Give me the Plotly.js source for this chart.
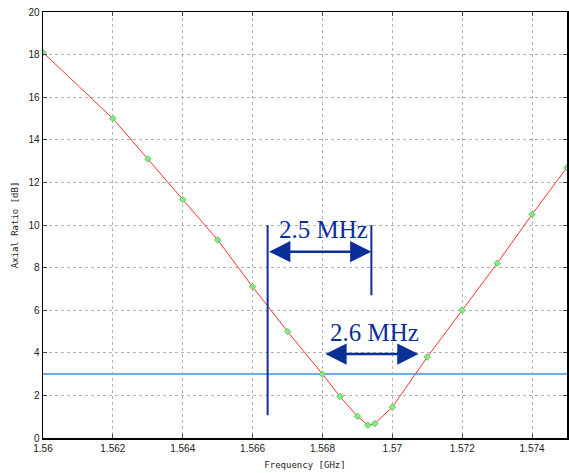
<!DOCTYPE html>
<html>
<head>
<meta charset="utf-8">
<script src="https://cdn.plot.ly/plotly-3.0.1.min.js"></script>
<style>html,body{margin:0;padding:0;background:#fff;}#chart{width:569px;height:473px;}</style>
</head>
<body>
<div id="chart"></div>
<script>
// Frequency [GHz]
var freq = [1.560, 1.562, 1.563, 1.564, 1.565, 1.566, 1.567, 1.568, 1.5685, 1.569, 1.5693, 1.5695, 1.570, 1.571, 1.572, 1.573, 1.574, 1.575];
// Axial ratio [dB]
var axialRatio = [18.1, 15.0, 13.1, 11.2, 9.3, 7.1, 5.0, 3.0, 1.95, 1.02, 0.6, 0.68, 1.45, 3.8, 6.0, 8.2, 10.5, 12.7];
// 3 dB threshold
var thresholdDb = 3;
var xTicks = [1.56, 1.562, 1.564, 1.566, 1.568, 1.57, 1.572, 1.574];
var xTickText = ["1.56", "1.562", "1.564", "1.566", "1.568", "1.57", "1.572", "1.574"];
var yTicks = [0, 2, 4, 6, 8, 10, 12, 14, 16, 18, 20];
// Bandwidth annotations
var bw1Label = "2.5 MHz", bw1Start = 1.56643, bw1End = 1.5694, bw1ArrowY = 8.75, bw1LineA = [1.07, 10.0], bw1LineB = [6.7, 10.0], bw1TextPos = [1.56802, 9.8];
var bw2Label = "2.6 MHz", bw2Start = 1.56804, bw2End = 1.57075, bw2ArrowY = 3.94, bw2TextPos = [1.56949, 4.95];

var navy = "#0b2f99";
var traces = [
  {x: [1.56, 1.575], y: [thresholdDb, thresholdDb], mode: "lines", line: {color: "#6aaef0", width: 2}, hoverinfo: "skip"},
  {x: freq, y: axialRatio, mode: "lines+markers", line: {color: "#ff3030", width: 1},
   marker: {symbol: "diamond", size: 5, color: "#88e888", line: {color: "#44cc44", width: 0.8}}}
];
var layout = {
  width: 569, height: 473,
  margin: {l: 43, r: 2, t: 12, b: 35},
  paper_bgcolor: "#fff", plot_bgcolor: "#fff",
  showlegend: false,
  font: {family: "Liberation Sans, Arial, sans-serif", size: 10, color: "#222"},
  xaxis: {range: [1.56, 1.575], tickvals: xTicks, ticktext: xTickText, showgrid: true,
    gridcolor: "#b4b4b4", griddash: "dot", gridwidth: 1, zeroline: false,
    showline: true, linecolor: "#000", linewidth: 1.5, mirror: "ticks", ticks: "inside", ticklen: 4, tickcolor: "#444",
    title: {text: "Frequency [GHz]", font: {family: "DejaVu Sans Mono, monospace", size: 9, color: "#222"}, standoff: 9}},
  yaxis: {range: [0, 20], tickvals: yTicks, showgrid: true,
    gridcolor: "#b4b4b4", griddash: "dot", gridwidth: 1, zeroline: false,
    showline: true, linecolor: "#000", linewidth: 1.5, mirror: "ticks", ticks: "inside", ticklen: 4, tickcolor: "#444",
    title: {text: "Axial Ratio [dB]", font: {family: "DejaVu Sans Mono, monospace", size: 9, color: "#222"}, standoff: 8}},
  shapes: [
    {type: "line", xref: "x", yref: "y", x0: bw1Start, x1: bw1Start, y0: bw1LineA[0], y1: bw1LineA[1], line: {color: navy, width: 2}},
    {type: "line", xref: "x", yref: "y", x0: bw1End, x1: bw1End, y0: bw1LineB[0], y1: bw1LineB[1], line: {color: navy, width: 2}}
  ],
  annotations: [
    {x: bw1End, y: bw1ArrowY, ax: bw1Start, ay: bw1ArrowY, xref: "x", yref: "y", axref: "x", ayref: "y",
     text: "", showarrow: true, arrowhead: 2, startarrowhead: 2, arrowside: "end+start", arrowsize: 1.7, startarrowsize: 1.7, arrowwidth: 2.5, arrowcolor: navy, standoff: 0, startstandoff: 0},
    {x: bw2End, y: bw2ArrowY, ax: bw2Start, ay: bw2ArrowY, xref: "x", yref: "y", axref: "x", ayref: "y",
     text: "", showarrow: true, arrowhead: 2, startarrowhead: 2, arrowside: "end+start", arrowsize: 1.7, startarrowsize: 1.7, arrowwidth: 2.5, arrowcolor: navy, standoff: 0, startstandoff: 0},
    {x: bw1TextPos[0], y: bw1TextPos[1], xref: "x", yref: "y", text: bw1Label, showarrow: false,
     font: {family: "Liberation Serif, Times New Roman, serif", size: 25, color: navy}},
    {x: bw2TextPos[0], y: bw2TextPos[1], xref: "x", yref: "y", text: bw2Label, showarrow: false,
     font: {family: "Liberation Serif, Times New Roman, serif", size: 25, color: navy}}
  ]
};
Plotly.newPlot("chart", traces, layout, {displayModeBar: false, staticPlot: true});
</script>
</body>
</html>
